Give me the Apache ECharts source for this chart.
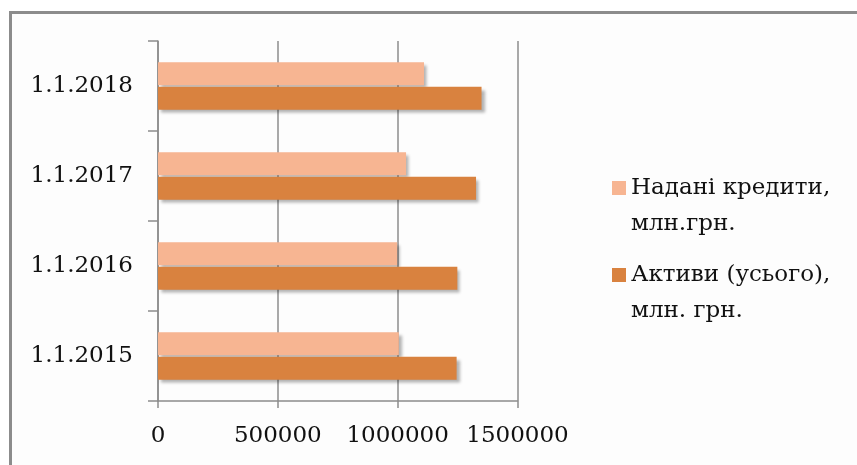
<!DOCTYPE html>
<html>
<head>
<meta charset="utf-8">
<script src="https://cdn.jsdelivr.net/npm/echarts@6/dist/echarts.min.js"></script>
<style>html,body{margin:0;padding:0;background:#fff;}#c{width:857px;height:465px;}</style>
</head>
<body>
<div id="c"></div>
<script>
const categories = ['1.1.2015', '1.1.2016', '1.1.2017', '1.1.2018'];
const seriesNames = ['Надані кредити,\nмлн.грн.', 'Активи (усього),\nмлн. грн.'];
const credits = [1005000, 998000, 1035000, 1110000];
const assets = [1246000, 1249000, 1327000, 1350000];
const xTicks = [0, 500000, 1000000, 1500000];

const chart = echarts.init(document.getElementById('c'), null, {renderer: 'canvas'});
const font = 'DejaVu Serif';
const shadow = {shadowColor: 'rgba(0,0,0,0.3)', shadowBlur: 3, shadowOffsetX: 3, shadowOffsetY: 3};
chart.setOption({
  animation: false,
  backgroundColor: '#fff',
  graphic: [{
    type: 'rect', z: -1, silent: true,
    shape: {x: 10.5, y: 12.5, width: 900, height: 500},
    style: {fill: '#fdfdfd', stroke: '#8c8c8c', lineWidth: 3}
  }],
  grid: {left: 158, right: 339.5, top: 41, bottom: 64, containLabel: false},
  legend: {
    orient: 'vertical', left: 612, top: 134, padding: 0, itemGap: -21,
    itemWidth: 14, itemHeight: 14, icon: 'rect',
    data: seriesNames,
    formatter: function (name) { return '\n' + name; },
    textStyle: {fontFamily: font, fontSize: 23, color: '#111', lineHeight: 36}
  },
  xAxis: {
    type: 'value', min: xTicks[0], max: xTicks[xTicks.length - 1], interval: 500000,
    axisLine: {show: true, lineStyle: {color: '#8c8c8c', width: 1.5}},
    axisTick: {show: true, length: 7, lineStyle: {color: '#8c8c8c', width: 1.5}},
    splitLine: {show: true, lineStyle: {color: '#8c8c8c', width: 1.5}},
    axisLabel: {fontFamily: font, fontSize: 23, color: '#111', margin: 24, showMaxLabel: true, showMinLabel: true,
      formatter: function (v) { return String(v); }}
  },
  yAxis: {
    type: 'category', data: categories,
    axisLine: {show: true, lineStyle: {color: '#8c8c8c', width: 1.5}},
    axisTick: {show: true, length: 10, lineStyle: {color: '#8c8c8c', width: 1.5}},
    axisLabel: {fontFamily: font, fontSize: 23, color: '#111', margin: 25, interval: 0}
  },
  series: [
    {name: seriesNames[0], type: 'bar', data: credits, barWidth: 23, barGap: '7%',
     itemStyle: Object.assign({color: '#F7B592'}, shadow)},
    {name: seriesNames[1], type: 'bar', data: assets, barWidth: 23, barGap: '7%',
     itemStyle: Object.assign({color: '#D9823F'}, shadow)}
  ]
});
</script>
</body>
</html>
